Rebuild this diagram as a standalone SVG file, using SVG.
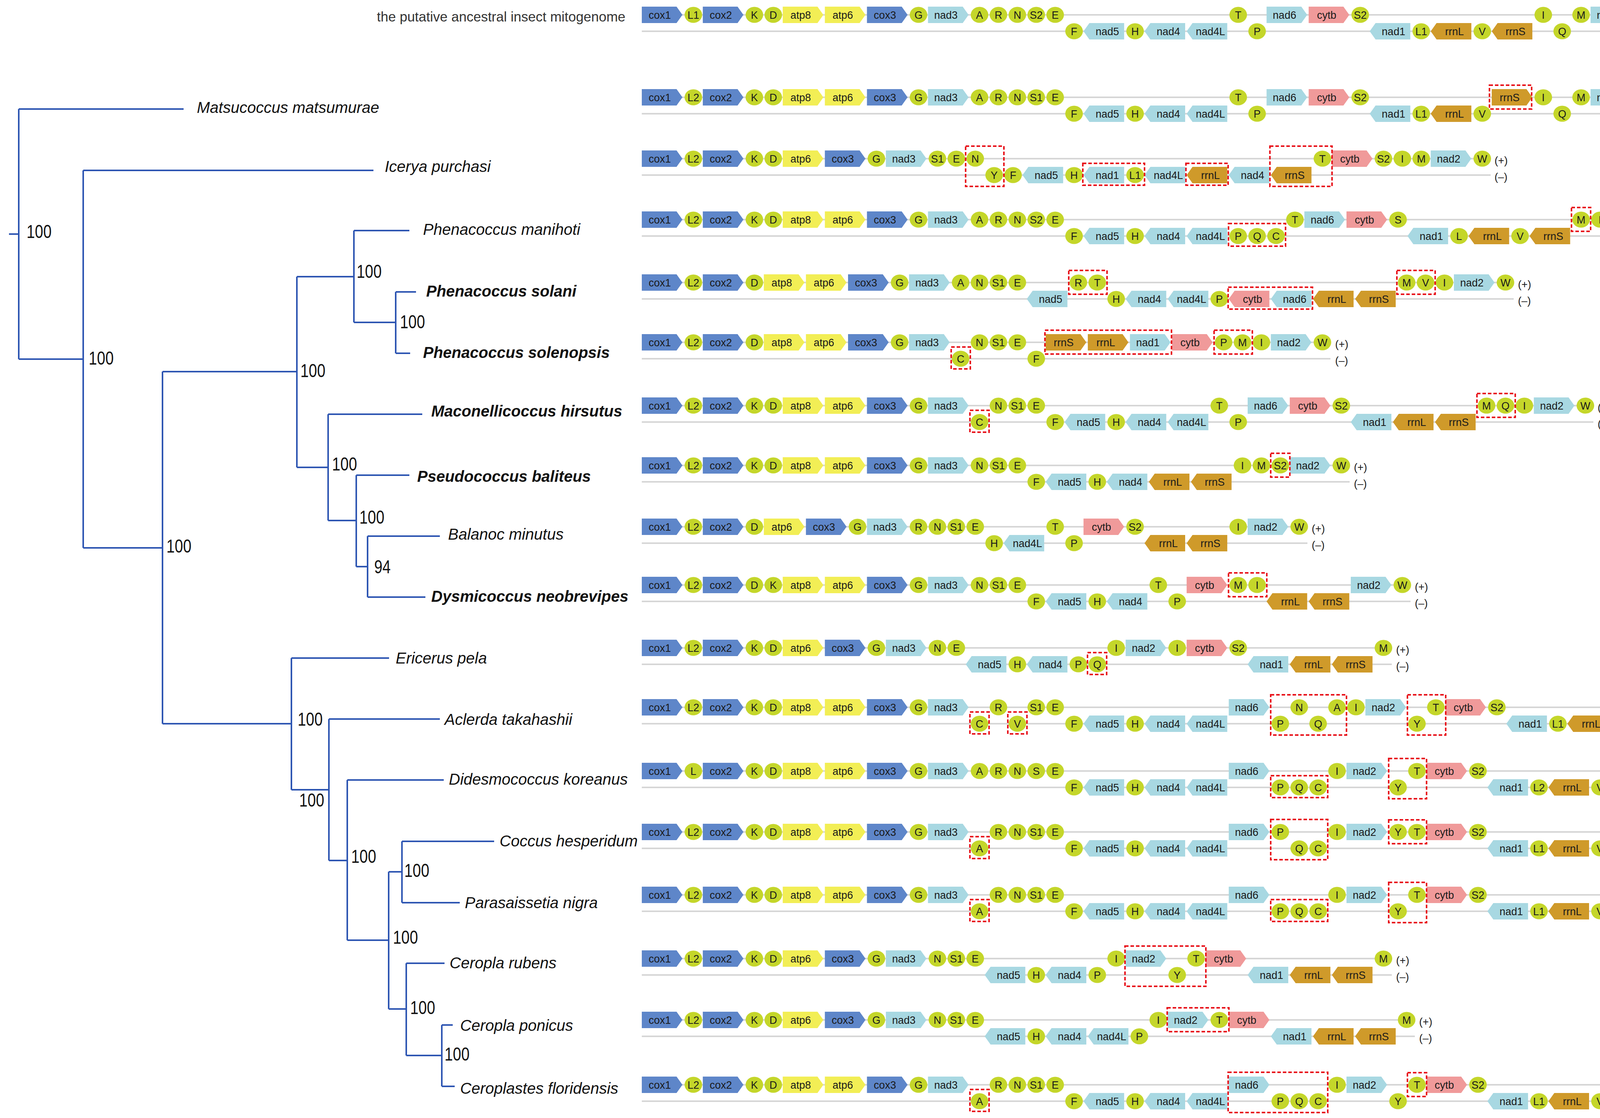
<svg xmlns="http://www.w3.org/2000/svg" xmlns:xlink="http://www.w3.org/1999/xlink" width="4384" height="2861" viewBox="0 0 4384 2861">
<style>
.c{fill:#5E86C9}.a{fill:#F2EE55}.n{fill:#A8D8E2}.y{fill:#F09A9A}.s{fill:#CF9A2A}.t{fill:#C4D62A}
.row text{font-family:"Liberation Sans",Arial,sans-serif;font-size:27px;fill:#1a1a1a;text-anchor:middle}
.row text.sd{text-anchor:start}
.ln{stroke:#D6D6D6;stroke-width:4}
.bx{fill:none;stroke:#E8141C;stroke-width:4;stroke-dasharray:9 5}
.tree path{fill:none;stroke:#2D55B2;stroke-width:4}
.sp{font-family:"Liberation Sans",Arial,sans-serif;font-size:40px;font-style:italic;fill:#111}
.b{font-weight:bold}
.bs{font-family:"Liberation Sans",Arial,sans-serif;font-size:48px;fill:#111}
.ti{font-family:"Liberation Sans",Arial,sans-serif;font-size:35px;fill:#333;text-anchor:end}
</style>
<defs>
<path id="f" d="M0,-21H89L104,0L89,21H0Z"/>
<path id="r" d="M15,-21H104V21H15L0,0Z"/>
<ellipse id="t" cx="24.2" cy="0" rx="22.5" ry="20.5"/>
</defs>
<rect width="4384" height="2861" fill="#fff"/>
<text class="ti" x="1601" y="55">the putative ancestral insect mitogenome</text>

<g id="connectors" class="tree">
<path d="M23,599H48M48,279V919M48,279H470M48,919H213"/>
<path d="M213,436V1402M213,436H956M213,1402H416"/>
<path d="M416,951V1852M416,951H760M416,1852H746"/>
<path d="M760,708V1196M760,708H906M760,1196H840"/>
<path d="M906,590V825M906,590H1048M906,825H1013M1013,747V904M1013,747H1065M1013,904H1050"/>
<path d="M840,1060V1332M840,1060H1081M840,1332H912M912,1216V1450M912,1216H1048M912,1450H941M941,1372V1528M941,1372H1126M941,1528H1089"/>
<path d="M746,1684V2021M746,1684H996M746,2021H842M842,1840V2202M842,1840H1126M842,2202H889"/>
<path d="M889,1996V2406M889,1996H1136M889,2406H995M995,2231V2582M995,2231H1029M995,2582H1040"/>
<path d="M1029,2153V2310M1029,2153H1265M1029,2310H1177M1040,2465V2701M1040,2465H1138M1040,2701H1131M1131,2623V2780M1131,2623H1159M1131,2780H1164"/>
</g>

<g id="tree-labels">
<text class="sp" x="504" y="289">Matsucoccus matsumurae</text>
<text class="sp" x="985" y="440">Icerya purchasi</text>
<text class="sp" x="1083" y="601">Phenacoccus manihoti</text>
<text class="sp b" x="1091" y="759">Phenacoccus solani</text>
<text class="sp b" x="1083" y="916">Phenacoccus solenopsis</text>
<text class="sp b" x="1104" y="1066">Maconellicoccus hirsutus</text>
<text class="sp b" x="1068" y="1233">Pseudococcus baliteus</text>
<text class="sp" x="1147" y="1381">Balanoc minutus</text>
<text class="sp b" x="1104" y="1540">Dysmicoccus neobrevipes</text>
<text class="sp" x="1013" y="1698">Ericerus pela</text>
<text class="sp" x="1138" y="1855">Aclerda takahashii</text>
<text class="sp" x="1149" y="2008">Didesmococcus koreanus</text>
<text class="sp" x="1279" y="2166">Coccus hesperidum</text>
<text class="sp" x="1190" y="2324">Parasaissetia nigra</text>
<text class="sp" x="1151" y="2478">Ceropla rubens</text>
<text class="sp" x="1178" y="2638">Ceropla ponicus</text>
<text class="sp" x="1178" y="2799">Ceroplastes floridensis</text>
<text class="bs" x="68" y="609" textLength="64" lengthAdjust="spacingAndGlyphs">100</text>
<text class="bs" x="227" y="933" textLength="64" lengthAdjust="spacingAndGlyphs">100</text>
<text class="bs" x="426" y="1414" textLength="64" lengthAdjust="spacingAndGlyphs">100</text>
<text class="bs" x="769" y="965" textLength="64" lengthAdjust="spacingAndGlyphs">100</text>
<text class="bs" x="913" y="711" textLength="64" lengthAdjust="spacingAndGlyphs">100</text>
<text class="bs" x="1024" y="840" textLength="64" lengthAdjust="spacingAndGlyphs">100</text>
<text class="bs" x="850" y="1204" textLength="64" lengthAdjust="spacingAndGlyphs">100</text>
<text class="bs" x="920" y="1340" textLength="64" lengthAdjust="spacingAndGlyphs">100</text>
<text class="bs" x="958" y="1467" textLength="42" lengthAdjust="spacingAndGlyphs">94</text>
<text class="bs" x="762" y="1857" textLength="64" lengthAdjust="spacingAndGlyphs">100</text>
<text class="bs" x="766" y="2064" textLength="64" lengthAdjust="spacingAndGlyphs">100</text>
<text class="bs" x="899" y="2208" textLength="64" lengthAdjust="spacingAndGlyphs">100</text>
<text class="bs" x="1006" y="2415" textLength="64" lengthAdjust="spacingAndGlyphs">100</text>
<text class="bs" x="1035" y="2244" textLength="64" lengthAdjust="spacingAndGlyphs">100</text>
<text class="bs" x="1050" y="2595" textLength="64" lengthAdjust="spacingAndGlyphs">100</text>
<text class="bs" x="1138" y="2714" textLength="64" lengthAdjust="spacingAndGlyphs">100</text>
</g>

<!-- Row 0 ancestral -->
<g id="row-ancestral" class="row" transform="translate(0,38)">
<line class="ln" x1="1643" y1="0" x2="4321" y2="0"/><line class="ln" x1="1643" y1="42" x2="4321" y2="42"/>
<g transform="translate(1643)"><use href="#f" class="c"/><text x="46" y="9.5">cox1</text></g>
<g transform="translate(1750.8)"><use href="#t" class="t"/><text x="24.2" y="9.5">L1</text></g>
<g transform="translate(1799.2)"><use href="#f" class="c"/><text x="46" y="9.5">cox2</text></g>
<g transform="translate(1907)"><use href="#t" class="t"/><text x="24.2" y="9.5">K</text></g>
<g transform="translate(1955.4)"><use href="#t" class="t"/><text x="24.2" y="9.5">D</text></g>
<g transform="translate(2003.8)"><use href="#f" class="a"/><text x="46" y="9.5">atp8</text></g>
<g transform="translate(2111.6)"><use href="#f" class="a"/><text x="46" y="9.5">atp6</text></g>
<g transform="translate(2219.4)"><use href="#f" class="c"/><text x="46" y="9.5">cox3</text></g>
<g transform="translate(2327.2)"><use href="#t" class="t"/><text x="24.2" y="9.5">G</text></g>
<g transform="translate(2375.6)"><use href="#f" class="n"/><text x="46" y="9.5">nad3</text></g>
<g transform="translate(2483.4)"><use href="#t" class="t"/><text x="24.2" y="9.5">A</text></g>
<g transform="translate(2531.8)"><use href="#t" class="t"/><text x="24.2" y="9.5">R</text></g>
<g transform="translate(2580.2)"><use href="#t" class="t"/><text x="24.2" y="9.5">N</text></g>
<g transform="translate(2628.6)"><use href="#t" class="t"/><text x="24.2" y="9.5">S2</text></g>
<g transform="translate(2677)"><use href="#t" class="t"/><text x="24.2" y="9.5">E</text></g>
<g transform="translate(2725.4,42)"><use href="#t" class="t"/><text x="24.2" y="9.5">F</text></g>
<g transform="translate(2773.8,42)"><use href="#r" class="n"/><text x="61" y="9.5">nad5</text></g>
<g transform="translate(2881.6,42)"><use href="#t" class="t"/><text x="24.2" y="9.5">H</text></g>
<g transform="translate(2930,42)"><use href="#r" class="n"/><text x="61" y="9.5">nad4</text></g>
<g transform="translate(3037.8,42)"><use href="#r" class="n"/><text x="61" y="9.5">nad4L</text></g>
<g transform="translate(3145.6)"><use href="#t" class="t"/><text x="24.2" y="9.5">T</text></g>
<g transform="translate(3194,42)"><use href="#t" class="t"/><text x="24.2" y="9.5">P</text></g>
<g transform="translate(3242.4)"><use href="#f" class="n"/><text x="46" y="9.5">nad6</text></g>
<g transform="translate(3350.2)"><use href="#f" class="y"/><text x="46" y="9.5">cytb</text></g>
<g transform="translate(3458)"><use href="#t" class="t"/><text x="24.2" y="9.5">S2</text></g>
<g transform="translate(3506.4,42)"><use href="#r" class="n"/><text x="61" y="9.5">nad1</text></g>
<g transform="translate(3614.2,42)"><use href="#t" class="t"/><text x="24.2" y="9.5">L1</text></g>
<g transform="translate(3662.6,42)"><use href="#r" class="s"/><text x="61" y="9.5">rrnL</text></g>
<g transform="translate(3770.4,42)"><use href="#t" class="t"/><text x="24.2" y="9.5">V</text></g>
<g transform="translate(3818.8,42)"><use href="#r" class="s"/><text x="61" y="9.5">rrnS</text></g>
<g transform="translate(3926.6)"><use href="#t" class="t"/><text x="24.2" y="9.5">I</text></g>
<g transform="translate(3975,42)"><use href="#t" class="t"/><text x="24.2" y="9.5">Q</text></g>
<g transform="translate(4023.4)"><use href="#t" class="t"/><text x="24.2" y="9.5">M</text></g>
<g transform="translate(4071.8)"><use href="#f" class="n"/><text x="46" y="9.5">nad2</text></g>
<g transform="translate(4179.6)"><use href="#t" class="t"/><text x="24.2" y="9.5">W</text></g>
<g transform="translate(4228,42)"><use href="#t" class="t"/><text x="24.2" y="9.5">C</text></g>
<g transform="translate(4276.4,42)"><use href="#t" class="t"/><text x="24.2" y="9.5">Y</text></g>
<text class="sd" x="4331" y="14">(+)</text><text class="sd" x="4331" y="56">(–)</text>
</g>

<!-- Row 1 Matsucoccus -->
<g id="row-matsucoccus" class="row" transform="translate(0,249)">
<line class="ln" x1="1643" y1="0" x2="4321" y2="0"/><line class="ln" x1="1643" y1="42" x2="4321" y2="42"/>
<g transform="translate(1643)"><use href="#f" class="c"/><text x="46" y="9.5">cox1</text></g>
<g transform="translate(1750.8)"><use href="#t" class="t"/><text x="24.2" y="9.5">L2</text></g>
<g transform="translate(1799.2)"><use href="#f" class="c"/><text x="46" y="9.5">cox2</text></g>
<g transform="translate(1907)"><use href="#t" class="t"/><text x="24.2" y="9.5">K</text></g>
<g transform="translate(1955.4)"><use href="#t" class="t"/><text x="24.2" y="9.5">D</text></g>
<g transform="translate(2003.8)"><use href="#f" class="a"/><text x="46" y="9.5">atp8</text></g>
<g transform="translate(2111.6)"><use href="#f" class="a"/><text x="46" y="9.5">atp6</text></g>
<g transform="translate(2219.4)"><use href="#f" class="c"/><text x="46" y="9.5">cox3</text></g>
<g transform="translate(2327.2)"><use href="#t" class="t"/><text x="24.2" y="9.5">G</text></g>
<g transform="translate(2375.6)"><use href="#f" class="n"/><text x="46" y="9.5">nad3</text></g>
<g transform="translate(2483.4)"><use href="#t" class="t"/><text x="24.2" y="9.5">A</text></g>
<g transform="translate(2531.8)"><use href="#t" class="t"/><text x="24.2" y="9.5">R</text></g>
<g transform="translate(2580.2)"><use href="#t" class="t"/><text x="24.2" y="9.5">N</text></g>
<g transform="translate(2628.6)"><use href="#t" class="t"/><text x="24.2" y="9.5">S1</text></g>
<g transform="translate(2677)"><use href="#t" class="t"/><text x="24.2" y="9.5">E</text></g>
<g transform="translate(2725.4,42)"><use href="#t" class="t"/><text x="24.2" y="9.5">F</text></g>
<g transform="translate(2773.8,42)"><use href="#r" class="n"/><text x="61" y="9.5">nad5</text></g>
<g transform="translate(2881.6,42)"><use href="#t" class="t"/><text x="24.2" y="9.5">H</text></g>
<g transform="translate(2930,42)"><use href="#r" class="n"/><text x="61" y="9.5">nad4</text></g>
<g transform="translate(3037.8,42)"><use href="#r" class="n"/><text x="61" y="9.5">nad4L</text></g>
<g transform="translate(3145.6)"><use href="#t" class="t"/><text x="24.2" y="9.5">T</text></g>
<g transform="translate(3194,42)"><use href="#t" class="t"/><text x="24.2" y="9.5">P</text></g>
<g transform="translate(3242.4)"><use href="#f" class="n"/><text x="46" y="9.5">nad6</text></g>
<g transform="translate(3350.2)"><use href="#f" class="y"/><text x="46" y="9.5">cytb</text></g>
<g transform="translate(3458)"><use href="#t" class="t"/><text x="24.2" y="9.5">S2</text></g>
<g transform="translate(3506.4,42)"><use href="#r" class="n"/><text x="61" y="9.5">nad1</text></g>
<g transform="translate(3614.2,42)"><use href="#t" class="t"/><text x="24.2" y="9.5">L1</text></g>
<g transform="translate(3662.6,42)"><use href="#r" class="s"/><text x="61" y="9.5">rrnL</text></g>
<g transform="translate(3770.4,42)"><use href="#t" class="t"/><text x="24.2" y="9.5">V</text></g>
<g transform="translate(3818.8)"><use href="#f" class="s"/><text x="46" y="9.5">rrnS</text></g>
<g transform="translate(3926.6)"><use href="#t" class="t"/><text x="24.2" y="9.5">I</text></g>
<g transform="translate(3975,42)"><use href="#t" class="t"/><text x="24.2" y="9.5">Q</text></g>
<g transform="translate(4023.4)"><use href="#t" class="t"/><text x="24.2" y="9.5">M</text></g>
<g transform="translate(4071.8)"><use href="#f" class="n"/><text x="46" y="9.5">nad2</text></g>
<g transform="translate(4179.6)"><use href="#t" class="t"/><text x="24.2" y="9.5">W</text></g>
<g transform="translate(4228,42)"><use href="#t" class="t"/><text x="24.2" y="9.5">Y</text></g>
<g transform="translate(4276.4,42)"><use href="#t" class="t"/><text x="24.2" y="9.5">C</text></g>
<rect class="bx" x="3813" y="-31" width="108" height="61"/>
<rect class="bx" x="4228" y="12" width="49" height="56"/>
<text class="sd" x="4331" y="14">(+)</text><text class="sd" x="4331" y="56">(–)</text>
</g>

<!-- Row 2 Icerya -->
<g id="row-icerya" class="row" transform="translate(0,406)">
<line class="ln" x1="1643" y1="0" x2="3816" y2="0"/><line class="ln" x1="1643" y1="42" x2="3816" y2="42"/>
<g transform="translate(1643)"><use href="#f" class="c"/><text x="46" y="9.5">cox1</text></g>
<g transform="translate(1750.8)"><use href="#t" class="t"/><text x="24.2" y="9.5">L2</text></g>
<g transform="translate(1799.2)"><use href="#f" class="c"/><text x="46" y="9.5">cox2</text></g>
<g transform="translate(1907)"><use href="#t" class="t"/><text x="24.2" y="9.5">K</text></g>
<g transform="translate(1955.4)"><use href="#t" class="t"/><text x="24.2" y="9.5">D</text></g>
<g transform="translate(2003.8)"><use href="#f" class="a"/><text x="46" y="9.5">atp6</text></g>
<g transform="translate(2111.6)"><use href="#f" class="c"/><text x="46" y="9.5">cox3</text></g>
<g transform="translate(2219.4)"><use href="#t" class="t"/><text x="24.2" y="9.5">G</text></g>
<g transform="translate(2267.8)"><use href="#f" class="n"/><text x="46" y="9.5">nad3</text></g>
<g transform="translate(2375.6)"><use href="#t" class="t"/><text x="24.2" y="9.5">S1</text></g>
<g transform="translate(2424)"><use href="#t" class="t"/><text x="24.2" y="9.5">E</text></g>
<g transform="translate(2472.4)"><use href="#t" class="t"/><text x="24.2" y="9.5">N</text></g>
<g transform="translate(2520.8,42)"><use href="#t" class="t"/><text x="24.2" y="9.5">Y</text></g>
<g transform="translate(2569.2,42)"><use href="#t" class="t"/><text x="24.2" y="9.5">F</text></g>
<g transform="translate(2617.6,42)"><use href="#r" class="n"/><text x="61" y="9.5">nad5</text></g>
<g transform="translate(2725.4,42)"><use href="#t" class="t"/><text x="24.2" y="9.5">H</text></g>
<g transform="translate(2773.8,42)"><use href="#r" class="n"/><text x="61" y="9.5">nad1</text></g>
<g transform="translate(2881.6,42)"><use href="#t" class="t"/><text x="24.2" y="9.5">L1</text></g>
<g transform="translate(2930,42)"><use href="#r" class="n"/><text x="61" y="9.5">nad4L</text></g>
<g transform="translate(3037.8,42)"><use href="#r" class="s"/><text x="61" y="9.5">rrnL</text></g>
<g transform="translate(3145.6,42)"><use href="#r" class="n"/><text x="61" y="9.5">nad4</text></g>
<g transform="translate(3253.4,42)"><use href="#r" class="s"/><text x="61" y="9.5">rrnS</text></g>
<g transform="translate(3361.2)"><use href="#t" class="t"/><text x="24.2" y="9.5">T</text></g>
<g transform="translate(3409.6)"><use href="#f" class="y"/><text x="46" y="9.5">cytb</text></g>
<g transform="translate(3517.4)"><use href="#t" class="t"/><text x="24.2" y="9.5">S2</text></g>
<g transform="translate(3565.8)"><use href="#t" class="t"/><text x="24.2" y="9.5">I</text></g>
<g transform="translate(3614.2)"><use href="#t" class="t"/><text x="24.2" y="9.5">M</text></g>
<g transform="translate(3662.6)"><use href="#f" class="n"/><text x="46" y="9.5">nad2</text></g>
<g transform="translate(3770.4)"><use href="#t" class="t"/><text x="24.2" y="9.5">W</text></g>
<rect class="bx" x="2472" y="-32" width="98" height="103"/>
<rect class="bx" x="2772" y="12" width="158" height="56"/>
<rect class="bx" x="3036" y="12" width="108" height="56"/>
<rect class="bx" x="3251" y="-32" width="159" height="103"/>
<text class="sd" x="3826" y="14">(+)</text><text class="sd" x="3826" y="56">(–)</text>
</g>

<!-- Row 3 P. manihoti -->
<g id="row-manihoti" class="row" transform="translate(0,562)">
<line class="ln" x1="1643" y1="0" x2="4321" y2="0"/><line class="ln" x1="1643" y1="42" x2="4321" y2="42"/>
<g transform="translate(1643)"><use href="#f" class="c"/><text x="46" y="9.5">cox1</text></g>
<g transform="translate(1750.8)"><use href="#t" class="t"/><text x="24.2" y="9.5">L2</text></g>
<g transform="translate(1799.2)"><use href="#f" class="c"/><text x="46" y="9.5">cox2</text></g>
<g transform="translate(1907)"><use href="#t" class="t"/><text x="24.2" y="9.5">K</text></g>
<g transform="translate(1955.4)"><use href="#t" class="t"/><text x="24.2" y="9.5">D</text></g>
<g transform="translate(2003.8)"><use href="#f" class="a"/><text x="46" y="9.5">atp8</text></g>
<g transform="translate(2111.6)"><use href="#f" class="a"/><text x="46" y="9.5">atp6</text></g>
<g transform="translate(2219.4)"><use href="#f" class="c"/><text x="46" y="9.5">cox3</text></g>
<g transform="translate(2327.2)"><use href="#t" class="t"/><text x="24.2" y="9.5">G</text></g>
<g transform="translate(2375.6)"><use href="#f" class="n"/><text x="46" y="9.5">nad3</text></g>
<g transform="translate(2483.4)"><use href="#t" class="t"/><text x="24.2" y="9.5">A</text></g>
<g transform="translate(2531.8)"><use href="#t" class="t"/><text x="24.2" y="9.5">R</text></g>
<g transform="translate(2580.2)"><use href="#t" class="t"/><text x="24.2" y="9.5">N</text></g>
<g transform="translate(2628.6)"><use href="#t" class="t"/><text x="24.2" y="9.5">S2</text></g>
<g transform="translate(2677)"><use href="#t" class="t"/><text x="24.2" y="9.5">E</text></g>
<g transform="translate(2725.4,42)"><use href="#t" class="t"/><text x="24.2" y="9.5">F</text></g>
<g transform="translate(2773.8,42)"><use href="#r" class="n"/><text x="61" y="9.5">nad5</text></g>
<g transform="translate(2881.6,42)"><use href="#t" class="t"/><text x="24.2" y="9.5">H</text></g>
<g transform="translate(2930,42)"><use href="#r" class="n"/><text x="61" y="9.5">nad4</text></g>
<g transform="translate(3037.8,42)"><use href="#r" class="n"/><text x="61" y="9.5">nad4L</text></g>
<g transform="translate(3145.6,42)"><use href="#t" class="t"/><text x="24.2" y="9.5">P</text></g>
<g transform="translate(3194,42)"><use href="#t" class="t"/><text x="24.2" y="9.5">Q</text></g>
<g transform="translate(3242.4,42)"><use href="#t" class="t"/><text x="24.2" y="9.5">C</text></g>
<g transform="translate(3290.8)"><use href="#t" class="t"/><text x="24.2" y="9.5">T</text></g>
<g transform="translate(3339.2)"><use href="#f" class="n"/><text x="46" y="9.5">nad6</text></g>
<g transform="translate(3447)"><use href="#f" class="y"/><text x="46" y="9.5">cytb</text></g>
<g transform="translate(3554.8)"><use href="#t" class="t"/><text x="24.2" y="9.5">S</text></g>
<g transform="translate(3603.2,42)"><use href="#r" class="n"/><text x="61" y="9.5">nad1</text></g>
<g transform="translate(3711,42)"><use href="#t" class="t"/><text x="24.2" y="9.5">L</text></g>
<g transform="translate(3759.4,42)"><use href="#r" class="s"/><text x="61" y="9.5">rrnL</text></g>
<g transform="translate(3867.2,42)"><use href="#t" class="t"/><text x="24.2" y="9.5">V</text></g>
<g transform="translate(3915.6,42)"><use href="#r" class="s"/><text x="61" y="9.5">rrnS</text></g>
<g transform="translate(4023.4)"><use href="#t" class="t"/><text x="24.2" y="9.5">M</text></g>
<g transform="translate(4071.8)"><use href="#t" class="t"/><text x="24.2" y="9.5">I</text></g>
<g transform="translate(4120.2)"><use href="#f" class="n"/><text x="46" y="9.5">nad2</text></g>
<g transform="translate(4228,42)"><use href="#t" class="t"/><text x="24.2" y="9.5">Y</text></g>
<g transform="translate(4276.4)"><use href="#t" class="t"/><text x="24.2" y="9.5">W</text></g>
<rect class="bx" x="3145" y="10" width="146" height="58"/>
<rect class="bx" x="4023" y="-31" width="49" height="61"/>
<rect class="bx" x="4276" y="-31" width="49" height="61"/>
<text class="sd" x="4331" y="14">(+)</text><text class="sd" x="4331" y="56">(–)</text>
</g>

<!-- Row 4 P. solani -->
<g id="row-solani" class="row" transform="translate(0,723)">
<line class="ln" x1="1643" y1="0" x2="3875" y2="0"/><line class="ln" x1="1643" y1="42" x2="3875" y2="42"/>
<g transform="translate(1643)"><use href="#f" class="c"/><text x="46" y="9.5">cox1</text></g>
<g transform="translate(1750.8)"><use href="#t" class="t"/><text x="24.2" y="9.5">L2</text></g>
<g transform="translate(1799.2)"><use href="#f" class="c"/><text x="46" y="9.5">cox2</text></g>
<g transform="translate(1907)"><use href="#t" class="t"/><text x="24.2" y="9.5">D</text></g>
<g transform="translate(1955.4)"><use href="#f" class="a"/><text x="46" y="9.5">atp8</text></g>
<g transform="translate(2063.2)"><use href="#f" class="a"/><text x="46" y="9.5">atp6</text></g>
<g transform="translate(2171)"><use href="#f" class="c"/><text x="46" y="9.5">cox3</text></g>
<g transform="translate(2278.8)"><use href="#t" class="t"/><text x="24.2" y="9.5">G</text></g>
<g transform="translate(2327.2)"><use href="#f" class="n"/><text x="46" y="9.5">nad3</text></g>
<g transform="translate(2435)"><use href="#t" class="t"/><text x="24.2" y="9.5">A</text></g>
<g transform="translate(2483.4)"><use href="#t" class="t"/><text x="24.2" y="9.5">N</text></g>
<g transform="translate(2531.8)"><use href="#t" class="t"/><text x="24.2" y="9.5">S1</text></g>
<g transform="translate(2580.2)"><use href="#t" class="t"/><text x="24.2" y="9.5">E</text></g>
<g transform="translate(2628.6,42)"><use href="#r" class="n"/><text x="61" y="9.5">nad5</text></g>
<g transform="translate(2736.4)"><use href="#t" class="t"/><text x="24.2" y="9.5">R</text></g>
<g transform="translate(2784.8)"><use href="#t" class="t"/><text x="24.2" y="9.5">T</text></g>
<g transform="translate(2833.2,42)"><use href="#t" class="t"/><text x="24.2" y="9.5">H</text></g>
<g transform="translate(2881.6,42)"><use href="#r" class="n"/><text x="61" y="9.5">nad4</text></g>
<g transform="translate(2989.4,42)"><use href="#r" class="n"/><text x="61" y="9.5">nad4L</text></g>
<g transform="translate(3097.2,42)"><use href="#t" class="t"/><text x="24.2" y="9.5">P</text></g>
<g transform="translate(3145.6,42)"><use href="#r" class="y"/><text x="61" y="9.5">cytb</text></g>
<g transform="translate(3253.4,42)"><use href="#r" class="n"/><text x="61" y="9.5">nad6</text></g>
<g transform="translate(3361.2,42)"><use href="#r" class="s"/><text x="61" y="9.5">rrnL</text></g>
<g transform="translate(3469,42)"><use href="#r" class="s"/><text x="61" y="9.5">rrnS</text></g>
<g transform="translate(3576.8)"><use href="#t" class="t"/><text x="24.2" y="9.5">M</text></g>
<g transform="translate(3625.2)"><use href="#t" class="t"/><text x="24.2" y="9.5">V</text></g>
<g transform="translate(3673.6)"><use href="#t" class="t"/><text x="24.2" y="9.5">I</text></g>
<g transform="translate(3722)"><use href="#f" class="n"/><text x="46" y="9.5">nad2</text></g>
<g transform="translate(3829.8)"><use href="#t" class="t"/><text x="24.2" y="9.5">W</text></g>
<rect class="bx" x="2736" y="-31" width="98" height="61"/>
<rect class="bx" x="3144" y="12" width="216" height="56"/>
<rect class="bx" x="3576" y="-31" width="98" height="61"/>
<text class="sd" x="3886" y="14">(+)</text><text class="sd" x="3886" y="56">(–)</text>
</g>

<!-- Row 5 P. solenopsis -->
<g id="row-solenopsis" class="row" transform="translate(0,876)">
<line class="ln" x1="1643" y1="0" x2="3406" y2="0"/><line class="ln" x1="1643" y1="42" x2="3406" y2="42"/>
<g transform="translate(1643)"><use href="#f" class="c"/><text x="46" y="9.5">cox1</text></g>
<g transform="translate(1750.8)"><use href="#t" class="t"/><text x="24.2" y="9.5">L2</text></g>
<g transform="translate(1799.2)"><use href="#f" class="c"/><text x="46" y="9.5">cox2</text></g>
<g transform="translate(1907)"><use href="#t" class="t"/><text x="24.2" y="9.5">D</text></g>
<g transform="translate(1955.4)"><use href="#f" class="a"/><text x="46" y="9.5">atp8</text></g>
<g transform="translate(2063.2)"><use href="#f" class="a"/><text x="46" y="9.5">atp6</text></g>
<g transform="translate(2171)"><use href="#f" class="c"/><text x="46" y="9.5">cox3</text></g>
<g transform="translate(2278.8)"><use href="#t" class="t"/><text x="24.2" y="9.5">G</text></g>
<g transform="translate(2327.2)"><use href="#f" class="n"/><text x="46" y="9.5">nad3</text></g>
<g transform="translate(2435,42)"><use href="#t" class="t"/><text x="24.2" y="9.5">C</text></g>
<g transform="translate(2483.4)"><use href="#t" class="t"/><text x="24.2" y="9.5">N</text></g>
<g transform="translate(2531.8)"><use href="#t" class="t"/><text x="24.2" y="9.5">S1</text></g>
<g transform="translate(2580.2)"><use href="#t" class="t"/><text x="24.2" y="9.5">E</text></g>
<g transform="translate(2628.6,42)"><use href="#t" class="t"/><text x="24.2" y="9.5">F</text></g>
<g transform="translate(2677)"><use href="#f" class="s"/><text x="46" y="9.5">rrnS</text></g>
<g transform="translate(2784.8)"><use href="#f" class="s"/><text x="46" y="9.5">rrnL</text></g>
<g transform="translate(2892.6)"><use href="#f" class="n"/><text x="46" y="9.5">nad1</text></g>
<g transform="translate(3000.4)"><use href="#f" class="y"/><text x="46" y="9.5">cytb</text></g>
<g transform="translate(3108.2)"><use href="#t" class="t"/><text x="24.2" y="9.5">P</text></g>
<g transform="translate(3156.6)"><use href="#t" class="t"/><text x="24.2" y="9.5">M</text></g>
<g transform="translate(3205)"><use href="#t" class="t"/><text x="24.2" y="9.5">I</text></g>
<g transform="translate(3253.4)"><use href="#f" class="n"/><text x="46" y="9.5">nad2</text></g>
<g transform="translate(3361.2)"><use href="#t" class="t"/><text x="24.2" y="9.5">W</text></g>
<rect class="bx" x="2435" y="12" width="49" height="56"/>
<rect class="bx" x="2675" y="-31" width="324" height="61"/>
<rect class="bx" x="3108" y="-31" width="98" height="61"/>
<text class="sd" x="3418" y="14">(+)</text><text class="sd" x="3418" y="56">(–)</text>
</g>

<!-- Row 6 Maconellicoccus -->
<g id="row-maconellicoccus" class="row" transform="translate(0,1038)">
<line class="ln" x1="1643" y1="0" x2="4079" y2="0"/><line class="ln" x1="1643" y1="42" x2="4079" y2="42"/>
<g transform="translate(1643)"><use href="#f" class="c"/><text x="46" y="9.5">cox1</text></g>
<g transform="translate(1750.8)"><use href="#t" class="t"/><text x="24.2" y="9.5">L2</text></g>
<g transform="translate(1799.2)"><use href="#f" class="c"/><text x="46" y="9.5">cox2</text></g>
<g transform="translate(1907)"><use href="#t" class="t"/><text x="24.2" y="9.5">K</text></g>
<g transform="translate(1955.4)"><use href="#t" class="t"/><text x="24.2" y="9.5">D</text></g>
<g transform="translate(2003.8)"><use href="#f" class="a"/><text x="46" y="9.5">atp8</text></g>
<g transform="translate(2111.6)"><use href="#f" class="a"/><text x="46" y="9.5">atp6</text></g>
<g transform="translate(2219.4)"><use href="#f" class="c"/><text x="46" y="9.5">cox3</text></g>
<g transform="translate(2327.2)"><use href="#t" class="t"/><text x="24.2" y="9.5">G</text></g>
<g transform="translate(2375.6)"><use href="#f" class="n"/><text x="46" y="9.5">nad3</text></g>
<g transform="translate(2483.4,42)"><use href="#t" class="t"/><text x="24.2" y="9.5">C</text></g>
<g transform="translate(2531.8)"><use href="#t" class="t"/><text x="24.2" y="9.5">N</text></g>
<g transform="translate(2580.2)"><use href="#t" class="t"/><text x="24.2" y="9.5">S1</text></g>
<g transform="translate(2628.6)"><use href="#t" class="t"/><text x="24.2" y="9.5">E</text></g>
<g transform="translate(2677,42)"><use href="#t" class="t"/><text x="24.2" y="9.5">F</text></g>
<g transform="translate(2725.4,42)"><use href="#r" class="n"/><text x="61" y="9.5">nad5</text></g>
<g transform="translate(2833.2,42)"><use href="#t" class="t"/><text x="24.2" y="9.5">H</text></g>
<g transform="translate(2881.6,42)"><use href="#r" class="n"/><text x="61" y="9.5">nad4</text></g>
<g transform="translate(2989.4,42)"><use href="#r" class="n"/><text x="61" y="9.5">nad4L</text></g>
<g transform="translate(3097.2)"><use href="#t" class="t"/><text x="24.2" y="9.5">T</text></g>
<g transform="translate(3145.6,42)"><use href="#t" class="t"/><text x="24.2" y="9.5">P</text></g>
<g transform="translate(3194)"><use href="#f" class="n"/><text x="46" y="9.5">nad6</text></g>
<g transform="translate(3301.8)"><use href="#f" class="y"/><text x="46" y="9.5">cytb</text></g>
<g transform="translate(3409.6)"><use href="#t" class="t"/><text x="24.2" y="9.5">S2</text></g>
<g transform="translate(3458,42)"><use href="#r" class="n"/><text x="61" y="9.5">nad1</text></g>
<g transform="translate(3565.8,42)"><use href="#r" class="s"/><text x="61" y="9.5">rrnL</text></g>
<g transform="translate(3673.6,42)"><use href="#r" class="s"/><text x="61" y="9.5">rrnS</text></g>
<g transform="translate(3781.4)"><use href="#t" class="t"/><text x="24.2" y="9.5">M</text></g>
<g transform="translate(3829.8)"><use href="#t" class="t"/><text x="24.2" y="9.5">Q</text></g>
<g transform="translate(3878.2)"><use href="#t" class="t"/><text x="24.2" y="9.5">I</text></g>
<g transform="translate(3926.6)"><use href="#f" class="n"/><text x="46" y="9.5">nad2</text></g>
<g transform="translate(4034.4)"><use href="#t" class="t"/><text x="24.2" y="9.5">W</text></g>
<rect class="bx" x="2483" y="12" width="49" height="56"/>
<rect class="bx" x="3781" y="-31" width="98" height="61"/>
<text class="sd" x="4090" y="14">(+)</text><text class="sd" x="4090" y="56">(–)</text>
</g>

<!-- Row 7 Pseudococcus -->
<g id="row-pseudococcus" class="row" transform="translate(0,1191)">
<line class="ln" x1="1643" y1="0" x2="3455" y2="0"/><line class="ln" x1="1643" y1="42" x2="3455" y2="42"/>
<g transform="translate(1643)"><use href="#f" class="c"/><text x="46" y="9.5">cox1</text></g>
<g transform="translate(1750.8)"><use href="#t" class="t"/><text x="24.2" y="9.5">L2</text></g>
<g transform="translate(1799.2)"><use href="#f" class="c"/><text x="46" y="9.5">cox2</text></g>
<g transform="translate(1907)"><use href="#t" class="t"/><text x="24.2" y="9.5">K</text></g>
<g transform="translate(1955.4)"><use href="#t" class="t"/><text x="24.2" y="9.5">D</text></g>
<g transform="translate(2003.8)"><use href="#f" class="a"/><text x="46" y="9.5">atp8</text></g>
<g transform="translate(2111.6)"><use href="#f" class="a"/><text x="46" y="9.5">atp6</text></g>
<g transform="translate(2219.4)"><use href="#f" class="c"/><text x="46" y="9.5">cox3</text></g>
<g transform="translate(2327.2)"><use href="#t" class="t"/><text x="24.2" y="9.5">G</text></g>
<g transform="translate(2375.6)"><use href="#f" class="n"/><text x="46" y="9.5">nad3</text></g>
<g transform="translate(2483.4)"><use href="#t" class="t"/><text x="24.2" y="9.5">N</text></g>
<g transform="translate(2531.8)"><use href="#t" class="t"/><text x="24.2" y="9.5">S1</text></g>
<g transform="translate(2580.2)"><use href="#t" class="t"/><text x="24.2" y="9.5">E</text></g>
<g transform="translate(2628.6,42)"><use href="#t" class="t"/><text x="24.2" y="9.5">F</text></g>
<g transform="translate(2677,42)"><use href="#r" class="n"/><text x="61" y="9.5">nad5</text></g>
<g transform="translate(2784.8,42)"><use href="#t" class="t"/><text x="24.2" y="9.5">H</text></g>
<g transform="translate(2833.2,42)"><use href="#r" class="n"/><text x="61" y="9.5">nad4</text></g>
<g transform="translate(2941,42)"><use href="#r" class="s"/><text x="61" y="9.5">rrnL</text></g>
<g transform="translate(3048.8,42)"><use href="#r" class="s"/><text x="61" y="9.5">rrnS</text></g>
<g transform="translate(3156.6)"><use href="#t" class="t"/><text x="24.2" y="9.5">I</text></g>
<g transform="translate(3205)"><use href="#t" class="t"/><text x="24.2" y="9.5">M</text></g>
<g transform="translate(3253.4)"><use href="#t" class="t"/><text x="24.2" y="9.5">S2</text></g>
<g transform="translate(3301.8)"><use href="#f" class="n"/><text x="46" y="9.5">nad2</text></g>
<g transform="translate(3409.6)"><use href="#t" class="t"/><text x="24.2" y="9.5">W</text></g>
<rect class="bx" x="3253" y="-31" width="49" height="61"/>
<text class="sd" x="3466" y="14">(+)</text><text class="sd" x="3466" y="56">(–)</text>
</g>

<!-- Row 8 Balanoc -->
<g id="row-balanoc" class="row" transform="translate(0,1348)">
<line class="ln" x1="1643" y1="0" x2="3347" y2="0"/><line class="ln" x1="1643" y1="42" x2="3347" y2="42"/>
<g transform="translate(1643)"><use href="#f" class="c"/><text x="46" y="9.5">cox1</text></g>
<g transform="translate(1750.8)"><use href="#t" class="t"/><text x="24.2" y="9.5">L2</text></g>
<g transform="translate(1799.2)"><use href="#f" class="c"/><text x="46" y="9.5">cox2</text></g>
<g transform="translate(1907)"><use href="#t" class="t"/><text x="24.2" y="9.5">D</text></g>
<g transform="translate(1955.4)"><use href="#f" class="a"/><text x="46" y="9.5">atp6</text></g>
<g transform="translate(2063.2)"><use href="#f" class="c"/><text x="46" y="9.5">cox3</text></g>
<g transform="translate(2171)"><use href="#t" class="t"/><text x="24.2" y="9.5">G</text></g>
<g transform="translate(2219.4)"><use href="#f" class="n"/><text x="46" y="9.5">nad3</text></g>
<g transform="translate(2327.2)"><use href="#t" class="t"/><text x="24.2" y="9.5">R</text></g>
<g transform="translate(2375.6)"><use href="#t" class="t"/><text x="24.2" y="9.5">N</text></g>
<g transform="translate(2424)"><use href="#t" class="t"/><text x="24.2" y="9.5">S1</text></g>
<g transform="translate(2472.4)"><use href="#t" class="t"/><text x="24.2" y="9.5">E</text></g>
<g transform="translate(2520.8,42)"><use href="#t" class="t"/><text x="24.2" y="9.5">H</text></g>
<g transform="translate(2569.2,42)"><use href="#r" class="n"/><text x="61" y="9.5">nad4L</text></g>
<g transform="translate(2677)"><use href="#t" class="t"/><text x="24.2" y="9.5">T</text></g>
<g transform="translate(2725.4,42)"><use href="#t" class="t"/><text x="24.2" y="9.5">P</text></g>
<g transform="translate(2773.8)"><use href="#f" class="y"/><text x="46" y="9.5">cytb</text></g>
<g transform="translate(2881.6)"><use href="#t" class="t"/><text x="24.2" y="9.5">S2</text></g>
<g transform="translate(2930,42)"><use href="#r" class="s"/><text x="61" y="9.5">rrnL</text></g>
<g transform="translate(3037.8,42)"><use href="#r" class="s"/><text x="61" y="9.5">rrnS</text></g>
<g transform="translate(3145.6)"><use href="#t" class="t"/><text x="24.2" y="9.5">I</text></g>
<g transform="translate(3194)"><use href="#f" class="n"/><text x="46" y="9.5">nad2</text></g>
<g transform="translate(3301.8)"><use href="#t" class="t"/><text x="24.2" y="9.5">W</text></g>
<text class="sd" x="3358" y="14">(+)</text><text class="sd" x="3358" y="56">(–)</text>
</g>

<!-- Row 9 Dysmicoccus -->
<g id="row-dysmicoccus" class="row" transform="translate(0,1497)">
<line class="ln" x1="1643" y1="0" x2="3611" y2="0"/><line class="ln" x1="1643" y1="42" x2="3611" y2="42"/>
<g transform="translate(1643)"><use href="#f" class="c"/><text x="46" y="9.5">cox1</text></g>
<g transform="translate(1750.8)"><use href="#t" class="t"/><text x="24.2" y="9.5">L2</text></g>
<g transform="translate(1799.2)"><use href="#f" class="c"/><text x="46" y="9.5">cox2</text></g>
<g transform="translate(1907)"><use href="#t" class="t"/><text x="24.2" y="9.5">D</text></g>
<g transform="translate(1955.4)"><use href="#t" class="t"/><text x="24.2" y="9.5">K</text></g>
<g transform="translate(2003.8)"><use href="#f" class="a"/><text x="46" y="9.5">atp8</text></g>
<g transform="translate(2111.6)"><use href="#f" class="a"/><text x="46" y="9.5">atp6</text></g>
<g transform="translate(2219.4)"><use href="#f" class="c"/><text x="46" y="9.5">cox3</text></g>
<g transform="translate(2327.2)"><use href="#t" class="t"/><text x="24.2" y="9.5">G</text></g>
<g transform="translate(2375.6)"><use href="#f" class="n"/><text x="46" y="9.5">nad3</text></g>
<g transform="translate(2483.4)"><use href="#t" class="t"/><text x="24.2" y="9.5">N</text></g>
<g transform="translate(2531.8)"><use href="#t" class="t"/><text x="24.2" y="9.5">S1</text></g>
<g transform="translate(2580.2)"><use href="#t" class="t"/><text x="24.2" y="9.5">E</text></g>
<g transform="translate(2628.6,42)"><use href="#t" class="t"/><text x="24.2" y="9.5">F</text></g>
<g transform="translate(2677,42)"><use href="#r" class="n"/><text x="61" y="9.5">nad5</text></g>
<g transform="translate(2784.8,42)"><use href="#t" class="t"/><text x="24.2" y="9.5">H</text></g>
<g transform="translate(2833.2,42)"><use href="#r" class="n"/><text x="61" y="9.5">nad4</text></g>
<g transform="translate(2941)"><use href="#t" class="t"/><text x="24.2" y="9.5">T</text></g>
<g transform="translate(2989.4,42)"><use href="#t" class="t"/><text x="24.2" y="9.5">P</text></g>
<g transform="translate(3037.8)"><use href="#f" class="y"/><text x="46" y="9.5">cytb</text></g>
<g transform="translate(3145.6)"><use href="#t" class="t"/><text x="24.2" y="9.5">M</text></g>
<g transform="translate(3194)"><use href="#t" class="t"/><text x="24.2" y="9.5">I</text></g>
<g transform="translate(3242.4,42)"><use href="#r" class="s"/><text x="61" y="9.5">rrnL</text></g>
<g transform="translate(3350.2,42)"><use href="#r" class="s"/><text x="61" y="9.5">rrnS</text></g>
<g transform="translate(3458)"><use href="#f" class="n"/><text x="46" y="9.5">nad2</text></g>
<g transform="translate(3565.8)"><use href="#t" class="t"/><text x="24.2" y="9.5">W</text></g>
<rect class="bx" x="3145" y="-31" width="98" height="61"/>
<text class="sd" x="3622" y="14">(+)</text><text class="sd" x="3622" y="56">(–)</text>
</g>

<!-- Row 10 Ericerus -->
<g id="row-ericerus" class="row" transform="translate(0,1658)">
<line class="ln" x1="1643" y1="0" x2="3563" y2="0"/><line class="ln" x1="1643" y1="42" x2="3563" y2="42"/>
<g transform="translate(1643)"><use href="#f" class="c"/><text x="46" y="9.5">cox1</text></g>
<g transform="translate(1750.8)"><use href="#t" class="t"/><text x="24.2" y="9.5">L2</text></g>
<g transform="translate(1799.2)"><use href="#f" class="c"/><text x="46" y="9.5">cox2</text></g>
<g transform="translate(1907)"><use href="#t" class="t"/><text x="24.2" y="9.5">K</text></g>
<g transform="translate(1955.4)"><use href="#t" class="t"/><text x="24.2" y="9.5">D</text></g>
<g transform="translate(2003.8)"><use href="#f" class="a"/><text x="46" y="9.5">atp6</text></g>
<g transform="translate(2111.6)"><use href="#f" class="c"/><text x="46" y="9.5">cox3</text></g>
<g transform="translate(2219.4)"><use href="#t" class="t"/><text x="24.2" y="9.5">G</text></g>
<g transform="translate(2267.8)"><use href="#f" class="n"/><text x="46" y="9.5">nad3</text></g>
<g transform="translate(2375.6)"><use href="#t" class="t"/><text x="24.2" y="9.5">N</text></g>
<g transform="translate(2424)"><use href="#t" class="t"/><text x="24.2" y="9.5">E</text></g>
<g transform="translate(2472.4,42)"><use href="#r" class="n"/><text x="61" y="9.5">nad5</text></g>
<g transform="translate(2580.2,42)"><use href="#t" class="t"/><text x="24.2" y="9.5">H</text></g>
<g transform="translate(2628.6,42)"><use href="#r" class="n"/><text x="61" y="9.5">nad4</text></g>
<g transform="translate(2736.4,42)"><use href="#t" class="t"/><text x="24.2" y="9.5">P</text></g>
<g transform="translate(2784.8,42)"><use href="#t" class="t"/><text x="24.2" y="9.5">Q</text></g>
<g transform="translate(2833.2)"><use href="#t" class="t"/><text x="24.2" y="9.5">I</text></g>
<g transform="translate(2881.6)"><use href="#f" class="n"/><text x="46" y="9.5">nad2</text></g>
<g transform="translate(2989.4)"><use href="#t" class="t"/><text x="24.2" y="9.5">I</text></g>
<g transform="translate(3037.8)"><use href="#f" class="y"/><text x="46" y="9.5">cytb</text></g>
<g transform="translate(3145.6)"><use href="#t" class="t"/><text x="24.2" y="9.5">S2</text></g>
<g transform="translate(3194,42)"><use href="#r" class="n"/><text x="61" y="9.5">nad1</text></g>
<g transform="translate(3301.8,42)"><use href="#r" class="s"/><text x="61" y="9.5">rrnL</text></g>
<g transform="translate(3409.6,42)"><use href="#r" class="s"/><text x="61" y="9.5">rrnS</text></g>
<g transform="translate(3517.4)"><use href="#t" class="t"/><text x="24.2" y="9.5">M</text></g>
<rect class="bx" x="2784" y="12" width="49" height="56"/>
<text class="sd" x="3574" y="14">(+)</text><text class="sd" x="3574" y="56">(–)</text>
</g>

<!-- Row 11 Aclerda -->
<g id="row-aclerda" class="row" transform="translate(0,1810)">
<line class="ln" x1="1643" y1="0" x2="4321" y2="0"/><line class="ln" x1="1643" y1="42" x2="4321" y2="42"/>
<g transform="translate(1643)"><use href="#f" class="c"/><text x="46" y="9.5">cox1</text></g>
<g transform="translate(1750.8)"><use href="#t" class="t"/><text x="24.2" y="9.5">L2</text></g>
<g transform="translate(1799.2)"><use href="#f" class="c"/><text x="46" y="9.5">cox2</text></g>
<g transform="translate(1907)"><use href="#t" class="t"/><text x="24.2" y="9.5">K</text></g>
<g transform="translate(1955.4)"><use href="#t" class="t"/><text x="24.2" y="9.5">D</text></g>
<g transform="translate(2003.8)"><use href="#f" class="a"/><text x="46" y="9.5">atp8</text></g>
<g transform="translate(2111.6)"><use href="#f" class="a"/><text x="46" y="9.5">atp6</text></g>
<g transform="translate(2219.4)"><use href="#f" class="c"/><text x="46" y="9.5">cox3</text></g>
<g transform="translate(2327.2)"><use href="#t" class="t"/><text x="24.2" y="9.5">G</text></g>
<g transform="translate(2375.6)"><use href="#f" class="n"/><text x="46" y="9.5">nad3</text></g>
<g transform="translate(2483.4,42)"><use href="#t" class="t"/><text x="24.2" y="9.5">C</text></g>
<g transform="translate(2531.8)"><use href="#t" class="t"/><text x="24.2" y="9.5">R</text></g>
<g transform="translate(2580.2,42)"><use href="#t" class="t"/><text x="24.2" y="9.5">V</text></g>
<g transform="translate(2628.6)"><use href="#t" class="t"/><text x="24.2" y="9.5">S1</text></g>
<g transform="translate(2677)"><use href="#t" class="t"/><text x="24.2" y="9.5">E</text></g>
<g transform="translate(2725.4,42)"><use href="#t" class="t"/><text x="24.2" y="9.5">F</text></g>
<g transform="translate(2773.8,42)"><use href="#r" class="n"/><text x="61" y="9.5">nad5</text></g>
<g transform="translate(2881.6,42)"><use href="#t" class="t"/><text x="24.2" y="9.5">H</text></g>
<g transform="translate(2930,42)"><use href="#r" class="n"/><text x="61" y="9.5">nad4</text></g>
<g transform="translate(3037.8,42)"><use href="#r" class="n"/><text x="61" y="9.5">nad4L</text></g>
<g transform="translate(3145.6)"><use href="#f" class="n"/><text x="46" y="9.5">nad6</text></g>
<g transform="translate(3253.4,42)"><use href="#t" class="t"/><text x="24.2" y="9.5">P</text></g>
<g transform="translate(3301.8)"><use href="#t" class="t"/><text x="24.2" y="9.5">N</text></g>
<g transform="translate(3350.2,42)"><use href="#t" class="t"/><text x="24.2" y="9.5">Q</text></g>
<g transform="translate(3398.6)"><use href="#t" class="t"/><text x="24.2" y="9.5">A</text></g>
<g transform="translate(3447)"><use href="#t" class="t"/><text x="24.2" y="9.5">I</text></g>
<g transform="translate(3495.4)"><use href="#f" class="n"/><text x="46" y="9.5">nad2</text></g>
<g transform="translate(3603.2,42)"><use href="#t" class="t"/><text x="24.2" y="9.5">Y</text></g>
<g transform="translate(3651.6)"><use href="#t" class="t"/><text x="24.2" y="9.5">T</text></g>
<g transform="translate(3700)"><use href="#f" class="y"/><text x="46" y="9.5">cytb</text></g>
<g transform="translate(3807.8)"><use href="#t" class="t"/><text x="24.2" y="9.5">S2</text></g>
<g transform="translate(3856.2,42)"><use href="#r" class="n"/><text x="61" y="9.5">nad1</text></g>
<g transform="translate(3964,42)"><use href="#t" class="t"/><text x="24.2" y="9.5">L1</text></g>
<g transform="translate(4012.4,42)"><use href="#r" class="s"/><text x="61" y="9.5">rrnL</text></g>
<g transform="translate(4120.2,42)"><use href="#r" class="s"/><text x="61" y="9.5">rrnS</text></g>
<g transform="translate(4228)"><use href="#t" class="t"/><text x="24.2" y="9.5">M</text></g>
<g transform="translate(4276.4)"><use href="#t" class="t"/><text x="24.2" y="9.5">W</text></g>
<rect class="bx" x="2483" y="12" width="49" height="56"/>
<rect class="bx" x="2580" y="12" width="49" height="56"/>
<rect class="bx" x="3253" y="-32" width="194" height="103"/>
<rect class="bx" x="3603" y="-32" width="98" height="103"/>
<text class="sd" x="4331" y="14">(+)</text><text class="sd" x="4331" y="56">(–)</text>
</g>

<!-- Row 12 Didesmococcus -->
<g id="row-didesmococcus" class="row" transform="translate(0,1973)">
<line class="ln" x1="1643" y1="0" x2="4321" y2="0"/><line class="ln" x1="1643" y1="42" x2="4321" y2="42"/>
<g transform="translate(1643)"><use href="#f" class="c"/><text x="46" y="9.5">cox1</text></g>
<g transform="translate(1750.8)"><use href="#t" class="t"/><text x="24.2" y="9.5">L</text></g>
<g transform="translate(1799.2)"><use href="#f" class="c"/><text x="46" y="9.5">cox2</text></g>
<g transform="translate(1907)"><use href="#t" class="t"/><text x="24.2" y="9.5">K</text></g>
<g transform="translate(1955.4)"><use href="#t" class="t"/><text x="24.2" y="9.5">D</text></g>
<g transform="translate(2003.8)"><use href="#f" class="a"/><text x="46" y="9.5">atp8</text></g>
<g transform="translate(2111.6)"><use href="#f" class="a"/><text x="46" y="9.5">atp6</text></g>
<g transform="translate(2219.4)"><use href="#f" class="c"/><text x="46" y="9.5">cox3</text></g>
<g transform="translate(2327.2)"><use href="#t" class="t"/><text x="24.2" y="9.5">G</text></g>
<g transform="translate(2375.6)"><use href="#f" class="n"/><text x="46" y="9.5">nad3</text></g>
<g transform="translate(2483.4)"><use href="#t" class="t"/><text x="24.2" y="9.5">A</text></g>
<g transform="translate(2531.8)"><use href="#t" class="t"/><text x="24.2" y="9.5">R</text></g>
<g transform="translate(2580.2)"><use href="#t" class="t"/><text x="24.2" y="9.5">N</text></g>
<g transform="translate(2628.6)"><use href="#t" class="t"/><text x="24.2" y="9.5">S</text></g>
<g transform="translate(2677)"><use href="#t" class="t"/><text x="24.2" y="9.5">E</text></g>
<g transform="translate(2725.4,42)"><use href="#t" class="t"/><text x="24.2" y="9.5">F</text></g>
<g transform="translate(2773.8,42)"><use href="#r" class="n"/><text x="61" y="9.5">nad5</text></g>
<g transform="translate(2881.6,42)"><use href="#t" class="t"/><text x="24.2" y="9.5">H</text></g>
<g transform="translate(2930,42)"><use href="#r" class="n"/><text x="61" y="9.5">nad4</text></g>
<g transform="translate(3037.8,42)"><use href="#r" class="n"/><text x="61" y="9.5">nad4L</text></g>
<g transform="translate(3145.6)"><use href="#f" class="n"/><text x="46" y="9.5">nad6</text></g>
<g transform="translate(3253.4,42)"><use href="#t" class="t"/><text x="24.2" y="9.5">P</text></g>
<g transform="translate(3301.8,42)"><use href="#t" class="t"/><text x="24.2" y="9.5">Q</text></g>
<g transform="translate(3350.2,42)"><use href="#t" class="t"/><text x="24.2" y="9.5">C</text></g>
<g transform="translate(3398.6)"><use href="#t" class="t"/><text x="24.2" y="9.5">I</text></g>
<g transform="translate(3447)"><use href="#f" class="n"/><text x="46" y="9.5">nad2</text></g>
<g transform="translate(3554.8,42)"><use href="#t" class="t"/><text x="24.2" y="9.5">Y</text></g>
<g transform="translate(3603.2)"><use href="#t" class="t"/><text x="24.2" y="9.5">T</text></g>
<g transform="translate(3651.6)"><use href="#f" class="y"/><text x="46" y="9.5">cytb</text></g>
<g transform="translate(3759.4)"><use href="#t" class="t"/><text x="24.2" y="9.5">S2</text></g>
<g transform="translate(3807.8,42)"><use href="#r" class="n"/><text x="61" y="9.5">nad1</text></g>
<g transform="translate(3915.6,42)"><use href="#t" class="t"/><text x="24.2" y="9.5">L2</text></g>
<g transform="translate(3964,42)"><use href="#r" class="s"/><text x="61" y="9.5">rrnL</text></g>
<g transform="translate(4071.8,42)"><use href="#t" class="t"/><text x="24.2" y="9.5">V</text></g>
<g transform="translate(4120.2,42)"><use href="#r" class="s"/><text x="61" y="9.5">rrnS</text></g>
<g transform="translate(4228)"><use href="#t" class="t"/><text x="24.2" y="9.5">M</text></g>
<g transform="translate(4276.4)"><use href="#t" class="t"/><text x="24.2" y="9.5">W</text></g>
<rect class="bx" x="3253" y="12" width="146" height="56"/>
<rect class="bx" x="3555" y="-32" width="97" height="103"/>
<text class="sd" x="4331" y="14">(+)</text><text class="sd" x="4331" y="56">(–)</text>
</g>

<!-- Row 13 Coccus -->
<g id="row-coccus" class="row" transform="translate(0,2129)">
<line class="ln" x1="1643" y1="0" x2="4321" y2="0"/><line class="ln" x1="1643" y1="42" x2="4321" y2="42"/>
<g transform="translate(1643)"><use href="#f" class="c"/><text x="46" y="9.5">cox1</text></g>
<g transform="translate(1750.8)"><use href="#t" class="t"/><text x="24.2" y="9.5">L2</text></g>
<g transform="translate(1799.2)"><use href="#f" class="c"/><text x="46" y="9.5">cox2</text></g>
<g transform="translate(1907)"><use href="#t" class="t"/><text x="24.2" y="9.5">K</text></g>
<g transform="translate(1955.4)"><use href="#t" class="t"/><text x="24.2" y="9.5">D</text></g>
<g transform="translate(2003.8)"><use href="#f" class="a"/><text x="46" y="9.5">atp8</text></g>
<g transform="translate(2111.6)"><use href="#f" class="a"/><text x="46" y="9.5">atp6</text></g>
<g transform="translate(2219.4)"><use href="#f" class="c"/><text x="46" y="9.5">cox3</text></g>
<g transform="translate(2327.2)"><use href="#t" class="t"/><text x="24.2" y="9.5">G</text></g>
<g transform="translate(2375.6)"><use href="#f" class="n"/><text x="46" y="9.5">nad3</text></g>
<g transform="translate(2483.4,42)"><use href="#t" class="t"/><text x="24.2" y="9.5">A</text></g>
<g transform="translate(2531.8)"><use href="#t" class="t"/><text x="24.2" y="9.5">R</text></g>
<g transform="translate(2580.2)"><use href="#t" class="t"/><text x="24.2" y="9.5">N</text></g>
<g transform="translate(2628.6)"><use href="#t" class="t"/><text x="24.2" y="9.5">S1</text></g>
<g transform="translate(2677)"><use href="#t" class="t"/><text x="24.2" y="9.5">E</text></g>
<g transform="translate(2725.4,42)"><use href="#t" class="t"/><text x="24.2" y="9.5">F</text></g>
<g transform="translate(2773.8,42)"><use href="#r" class="n"/><text x="61" y="9.5">nad5</text></g>
<g transform="translate(2881.6,42)"><use href="#t" class="t"/><text x="24.2" y="9.5">H</text></g>
<g transform="translate(2930,42)"><use href="#r" class="n"/><text x="61" y="9.5">nad4</text></g>
<g transform="translate(3037.8,42)"><use href="#r" class="n"/><text x="61" y="9.5">nad4L</text></g>
<g transform="translate(3145.6)"><use href="#f" class="n"/><text x="46" y="9.5">nad6</text></g>
<g transform="translate(3253.4)"><use href="#t" class="t"/><text x="24.2" y="9.5">P</text></g>
<g transform="translate(3301.8,42)"><use href="#t" class="t"/><text x="24.2" y="9.5">Q</text></g>
<g transform="translate(3350.2,42)"><use href="#t" class="t"/><text x="24.2" y="9.5">C</text></g>
<g transform="translate(3398.6)"><use href="#t" class="t"/><text x="24.2" y="9.5">I</text></g>
<g transform="translate(3447)"><use href="#f" class="n"/><text x="46" y="9.5">nad2</text></g>
<g transform="translate(3554.8)"><use href="#t" class="t"/><text x="24.2" y="9.5">Y</text></g>
<g transform="translate(3603.2)"><use href="#t" class="t"/><text x="24.2" y="9.5">T</text></g>
<g transform="translate(3651.6)"><use href="#f" class="y"/><text x="46" y="9.5">cytb</text></g>
<g transform="translate(3759.4)"><use href="#t" class="t"/><text x="24.2" y="9.5">S2</text></g>
<g transform="translate(3807.8,42)"><use href="#r" class="n"/><text x="61" y="9.5">nad1</text></g>
<g transform="translate(3915.6,42)"><use href="#t" class="t"/><text x="24.2" y="9.5">L1</text></g>
<g transform="translate(3964,42)"><use href="#r" class="s"/><text x="61" y="9.5">rrnL</text></g>
<g transform="translate(4071.8,42)"><use href="#t" class="t"/><text x="24.2" y="9.5">V</text></g>
<g transform="translate(4120.2,42)"><use href="#r" class="s"/><text x="61" y="9.5">rrnS</text></g>
<g transform="translate(4228)"><use href="#t" class="t"/><text x="24.2" y="9.5">M</text></g>
<g transform="translate(4276.4)"><use href="#t" class="t"/><text x="24.2" y="9.5">W</text></g>
<rect class="bx" x="2483" y="12" width="49" height="56"/>
<rect class="bx" x="3253" y="-32" width="146" height="103"/>
<rect class="bx" x="3555" y="-31" width="97" height="61"/>
<text class="sd" x="4331" y="14">(+)</text><text class="sd" x="4331" y="56">(–)</text>
</g>

<!-- Row 14 Parasaissetia -->
<g id="row-parasaissetia" class="row" transform="translate(0,2290)">
<line class="ln" x1="1643" y1="0" x2="4321" y2="0"/><line class="ln" x1="1643" y1="42" x2="4321" y2="42"/>
<g transform="translate(1643)"><use href="#f" class="c"/><text x="46" y="9.5">cox1</text></g>
<g transform="translate(1750.8)"><use href="#t" class="t"/><text x="24.2" y="9.5">L2</text></g>
<g transform="translate(1799.2)"><use href="#f" class="c"/><text x="46" y="9.5">cox2</text></g>
<g transform="translate(1907)"><use href="#t" class="t"/><text x="24.2" y="9.5">K</text></g>
<g transform="translate(1955.4)"><use href="#t" class="t"/><text x="24.2" y="9.5">D</text></g>
<g transform="translate(2003.8)"><use href="#f" class="a"/><text x="46" y="9.5">atp8</text></g>
<g transform="translate(2111.6)"><use href="#f" class="a"/><text x="46" y="9.5">atp6</text></g>
<g transform="translate(2219.4)"><use href="#f" class="c"/><text x="46" y="9.5">cox3</text></g>
<g transform="translate(2327.2)"><use href="#t" class="t"/><text x="24.2" y="9.5">G</text></g>
<g transform="translate(2375.6)"><use href="#f" class="n"/><text x="46" y="9.5">nad3</text></g>
<g transform="translate(2483.4,42)"><use href="#t" class="t"/><text x="24.2" y="9.5">A</text></g>
<g transform="translate(2531.8)"><use href="#t" class="t"/><text x="24.2" y="9.5">R</text></g>
<g transform="translate(2580.2)"><use href="#t" class="t"/><text x="24.2" y="9.5">N</text></g>
<g transform="translate(2628.6)"><use href="#t" class="t"/><text x="24.2" y="9.5">S1</text></g>
<g transform="translate(2677)"><use href="#t" class="t"/><text x="24.2" y="9.5">E</text></g>
<g transform="translate(2725.4,42)"><use href="#t" class="t"/><text x="24.2" y="9.5">F</text></g>
<g transform="translate(2773.8,42)"><use href="#r" class="n"/><text x="61" y="9.5">nad5</text></g>
<g transform="translate(2881.6,42)"><use href="#t" class="t"/><text x="24.2" y="9.5">H</text></g>
<g transform="translate(2930,42)"><use href="#r" class="n"/><text x="61" y="9.5">nad4</text></g>
<g transform="translate(3037.8,42)"><use href="#r" class="n"/><text x="61" y="9.5">nad4L</text></g>
<g transform="translate(3145.6)"><use href="#f" class="n"/><text x="46" y="9.5">nad6</text></g>
<g transform="translate(3253.4,42)"><use href="#t" class="t"/><text x="24.2" y="9.5">P</text></g>
<g transform="translate(3301.8,42)"><use href="#t" class="t"/><text x="24.2" y="9.5">Q</text></g>
<g transform="translate(3350.2,42)"><use href="#t" class="t"/><text x="24.2" y="9.5">C</text></g>
<g transform="translate(3398.6)"><use href="#t" class="t"/><text x="24.2" y="9.5">I</text></g>
<g transform="translate(3447)"><use href="#f" class="n"/><text x="46" y="9.5">nad2</text></g>
<g transform="translate(3554.8,42)"><use href="#t" class="t"/><text x="24.2" y="9.5">Y</text></g>
<g transform="translate(3603.2)"><use href="#t" class="t"/><text x="24.2" y="9.5">T</text></g>
<g transform="translate(3651.6)"><use href="#f" class="y"/><text x="46" y="9.5">cytb</text></g>
<g transform="translate(3759.4)"><use href="#t" class="t"/><text x="24.2" y="9.5">S2</text></g>
<g transform="translate(3807.8,42)"><use href="#r" class="n"/><text x="61" y="9.5">nad1</text></g>
<g transform="translate(3915.6,42)"><use href="#t" class="t"/><text x="24.2" y="9.5">L1</text></g>
<g transform="translate(3964,42)"><use href="#r" class="s"/><text x="61" y="9.5">rrnL</text></g>
<g transform="translate(4071.8,42)"><use href="#t" class="t"/><text x="24.2" y="9.5">V</text></g>
<g transform="translate(4120.2,42)"><use href="#r" class="s"/><text x="61" y="9.5">rrnS</text></g>
<g transform="translate(4228)"><use href="#t" class="t"/><text x="24.2" y="9.5">M</text></g>
<g transform="translate(4276.4)"><use href="#t" class="t"/><text x="24.2" y="9.5">W</text></g>
<rect class="bx" x="2483" y="12" width="49" height="56"/>
<rect class="bx" x="3253" y="12" width="146" height="56"/>
<rect class="bx" x="3555" y="-32" width="97" height="103"/>
<text class="sd" x="4331" y="14">(+)</text><text class="sd" x="4331" y="56">(–)</text>
</g>

<!-- Row 15 Ceropla rubens -->
<g id="row-ceropla-rubens" class="row" transform="translate(0,2453)">
<line class="ln" x1="1643" y1="0" x2="3563" y2="0"/><line class="ln" x1="1643" y1="42" x2="3563" y2="42"/>
<g transform="translate(1643)"><use href="#f" class="c"/><text x="46" y="9.5">cox1</text></g>
<g transform="translate(1750.8)"><use href="#t" class="t"/><text x="24.2" y="9.5">L2</text></g>
<g transform="translate(1799.2)"><use href="#f" class="c"/><text x="46" y="9.5">cox2</text></g>
<g transform="translate(1907)"><use href="#t" class="t"/><text x="24.2" y="9.5">K</text></g>
<g transform="translate(1955.4)"><use href="#t" class="t"/><text x="24.2" y="9.5">D</text></g>
<g transform="translate(2003.8)"><use href="#f" class="a"/><text x="46" y="9.5">atp6</text></g>
<g transform="translate(2111.6)"><use href="#f" class="c"/><text x="46" y="9.5">cox3</text></g>
<g transform="translate(2219.4)"><use href="#t" class="t"/><text x="24.2" y="9.5">G</text></g>
<g transform="translate(2267.8)"><use href="#f" class="n"/><text x="46" y="9.5">nad3</text></g>
<g transform="translate(2375.6)"><use href="#t" class="t"/><text x="24.2" y="9.5">N</text></g>
<g transform="translate(2424)"><use href="#t" class="t"/><text x="24.2" y="9.5">S1</text></g>
<g transform="translate(2472.4)"><use href="#t" class="t"/><text x="24.2" y="9.5">E</text></g>
<g transform="translate(2520.8,42)"><use href="#r" class="n"/><text x="61" y="9.5">nad5</text></g>
<g transform="translate(2628.6,42)"><use href="#t" class="t"/><text x="24.2" y="9.5">H</text></g>
<g transform="translate(2677,42)"><use href="#r" class="n"/><text x="61" y="9.5">nad4</text></g>
<g transform="translate(2784.8,42)"><use href="#t" class="t"/><text x="24.2" y="9.5">P</text></g>
<g transform="translate(2833.2)"><use href="#t" class="t"/><text x="24.2" y="9.5">I</text></g>
<g transform="translate(2881.6)"><use href="#f" class="n"/><text x="46" y="9.5">nad2</text></g>
<g transform="translate(2989.4,42)"><use href="#t" class="t"/><text x="24.2" y="9.5">Y</text></g>
<g transform="translate(3037.8)"><use href="#t" class="t"/><text x="24.2" y="9.5">T</text></g>
<g transform="translate(3086.2)"><use href="#f" class="y"/><text x="46" y="9.5">cytb</text></g>
<g transform="translate(3194,42)"><use href="#r" class="n"/><text x="61" y="9.5">nad1</text></g>
<g transform="translate(3301.8,42)"><use href="#r" class="s"/><text x="61" y="9.5">rrnL</text></g>
<g transform="translate(3409.6,42)"><use href="#r" class="s"/><text x="61" y="9.5">rrnS</text></g>
<g transform="translate(3517.4)"><use href="#t" class="t"/><text x="24.2" y="9.5">M</text></g>
<rect class="bx" x="2880" y="-32" width="207" height="103"/>
<text class="sd" x="3574" y="14">(+)</text><text class="sd" x="3574" y="56">(–)</text>
</g>

<!-- Row 16 Ceropla ponicus -->
<g id="row-ceropla-ponicus" class="row" transform="translate(0,2610)">
<line class="ln" x1="1643" y1="0" x2="3622" y2="0"/><line class="ln" x1="1643" y1="42" x2="3622" y2="42"/>
<g transform="translate(1643)"><use href="#f" class="c"/><text x="46" y="9.5">cox1</text></g>
<g transform="translate(1750.8)"><use href="#t" class="t"/><text x="24.2" y="9.5">L2</text></g>
<g transform="translate(1799.2)"><use href="#f" class="c"/><text x="46" y="9.5">cox2</text></g>
<g transform="translate(1907)"><use href="#t" class="t"/><text x="24.2" y="9.5">K</text></g>
<g transform="translate(1955.4)"><use href="#t" class="t"/><text x="24.2" y="9.5">D</text></g>
<g transform="translate(2003.8)"><use href="#f" class="a"/><text x="46" y="9.5">atp6</text></g>
<g transform="translate(2111.6)"><use href="#f" class="c"/><text x="46" y="9.5">cox3</text></g>
<g transform="translate(2219.4)"><use href="#t" class="t"/><text x="24.2" y="9.5">G</text></g>
<g transform="translate(2267.8)"><use href="#f" class="n"/><text x="46" y="9.5">nad3</text></g>
<g transform="translate(2375.6)"><use href="#t" class="t"/><text x="24.2" y="9.5">N</text></g>
<g transform="translate(2424)"><use href="#t" class="t"/><text x="24.2" y="9.5">S1</text></g>
<g transform="translate(2472.4)"><use href="#t" class="t"/><text x="24.2" y="9.5">E</text></g>
<g transform="translate(2520.8,42)"><use href="#r" class="n"/><text x="61" y="9.5">nad5</text></g>
<g transform="translate(2628.6,42)"><use href="#t" class="t"/><text x="24.2" y="9.5">H</text></g>
<g transform="translate(2677,42)"><use href="#r" class="n"/><text x="61" y="9.5">nad4</text></g>
<g transform="translate(2784.8,42)"><use href="#r" class="n"/><text x="61" y="9.5">nad4L</text></g>
<g transform="translate(2892.6,42)"><use href="#t" class="t"/><text x="24.2" y="9.5">P</text></g>
<g transform="translate(2941)"><use href="#t" class="t"/><text x="24.2" y="9.5">I</text></g>
<g transform="translate(2989.4)"><use href="#f" class="n"/><text x="46" y="9.5">nad2</text></g>
<g transform="translate(3097.2)"><use href="#t" class="t"/><text x="24.2" y="9.5">T</text></g>
<g transform="translate(3145.6)"><use href="#f" class="y"/><text x="46" y="9.5">cytb</text></g>
<g transform="translate(3253.4,42)"><use href="#r" class="n"/><text x="61" y="9.5">nad1</text></g>
<g transform="translate(3361.2,42)"><use href="#r" class="s"/><text x="61" y="9.5">rrnL</text></g>
<g transform="translate(3469,42)"><use href="#r" class="s"/><text x="61" y="9.5">rrnS</text></g>
<g transform="translate(3576.8)"><use href="#t" class="t"/><text x="24.2" y="9.5">M</text></g>
<rect class="bx" x="2988" y="-31" width="158" height="61"/>
<text class="sd" x="3633" y="14">(+)</text><text class="sd" x="3633" y="56">(–)</text>
</g>

<!-- Row 17 Ceroplastes -->
<g id="row-ceroplastes" class="row" transform="translate(0,2776)">
<line class="ln" x1="1643" y1="0" x2="4321" y2="0"/><line class="ln" x1="1643" y1="42" x2="4321" y2="42"/>
<g transform="translate(1643)"><use href="#f" class="c"/><text x="46" y="9.5">cox1</text></g>
<g transform="translate(1750.8)"><use href="#t" class="t"/><text x="24.2" y="9.5">L2</text></g>
<g transform="translate(1799.2)"><use href="#f" class="c"/><text x="46" y="9.5">cox2</text></g>
<g transform="translate(1907)"><use href="#t" class="t"/><text x="24.2" y="9.5">K</text></g>
<g transform="translate(1955.4)"><use href="#t" class="t"/><text x="24.2" y="9.5">D</text></g>
<g transform="translate(2003.8)"><use href="#f" class="a"/><text x="46" y="9.5">atp8</text></g>
<g transform="translate(2111.6)"><use href="#f" class="a"/><text x="46" y="9.5">atp6</text></g>
<g transform="translate(2219.4)"><use href="#f" class="c"/><text x="46" y="9.5">cox3</text></g>
<g transform="translate(2327.2)"><use href="#t" class="t"/><text x="24.2" y="9.5">G</text></g>
<g transform="translate(2375.6)"><use href="#f" class="n"/><text x="46" y="9.5">nad3</text></g>
<g transform="translate(2483.4,42)"><use href="#t" class="t"/><text x="24.2" y="9.5">A</text></g>
<g transform="translate(2531.8)"><use href="#t" class="t"/><text x="24.2" y="9.5">R</text></g>
<g transform="translate(2580.2)"><use href="#t" class="t"/><text x="24.2" y="9.5">N</text></g>
<g transform="translate(2628.6)"><use href="#t" class="t"/><text x="24.2" y="9.5">S1</text></g>
<g transform="translate(2677)"><use href="#t" class="t"/><text x="24.2" y="9.5">E</text></g>
<g transform="translate(2725.4,42)"><use href="#t" class="t"/><text x="24.2" y="9.5">F</text></g>
<g transform="translate(2773.8,42)"><use href="#r" class="n"/><text x="61" y="9.5">nad5</text></g>
<g transform="translate(2881.6,42)"><use href="#t" class="t"/><text x="24.2" y="9.5">H</text></g>
<g transform="translate(2930,42)"><use href="#r" class="n"/><text x="61" y="9.5">nad4</text></g>
<g transform="translate(3037.8,42)"><use href="#r" class="n"/><text x="61" y="9.5">nad4L</text></g>
<g transform="translate(3145.6)"><use href="#f" class="n"/><text x="46" y="9.5">nad6</text></g>
<g transform="translate(3253.4,42)"><use href="#t" class="t"/><text x="24.2" y="9.5">P</text></g>
<g transform="translate(3301.8,42)"><use href="#t" class="t"/><text x="24.2" y="9.5">Q</text></g>
<g transform="translate(3350.2,42)"><use href="#t" class="t"/><text x="24.2" y="9.5">C</text></g>
<g transform="translate(3398.6)"><use href="#t" class="t"/><text x="24.2" y="9.5">I</text></g>
<g transform="translate(3447)"><use href="#f" class="n"/><text x="46" y="9.5">nad2</text></g>
<g transform="translate(3554.8,42)"><use href="#t" class="t"/><text x="24.2" y="9.5">Y</text></g>
<g transform="translate(3603.2)"><use href="#t" class="t"/><text x="24.2" y="9.5">T</text></g>
<g transform="translate(3651.6)"><use href="#f" class="y"/><text x="46" y="9.5">cytb</text></g>
<g transform="translate(3759.4)"><use href="#t" class="t"/><text x="24.2" y="9.5">S2</text></g>
<g transform="translate(3807.8,42)"><use href="#r" class="n"/><text x="61" y="9.5">nad1</text></g>
<g transform="translate(3915.6,42)"><use href="#t" class="t"/><text x="24.2" y="9.5">L1</text></g>
<g transform="translate(3964,42)"><use href="#r" class="s"/><text x="61" y="9.5">rrnL</text></g>
<g transform="translate(4071.8,42)"><use href="#t" class="t"/><text x="24.2" y="9.5">V</text></g>
<g transform="translate(4120.2,42)"><use href="#r" class="s"/><text x="61" y="9.5">rrnS</text></g>
<g transform="translate(4228)"><use href="#t" class="t"/><text x="24.2" y="9.5">M</text></g>
<g transform="translate(4276.4)"><use href="#t" class="t"/><text x="24.2" y="9.5">W</text></g>
<rect class="bx" x="2483" y="12" width="49" height="56"/>
<rect class="bx" x="3144" y="-32" width="255" height="103"/>
<rect class="bx" x="3603" y="-31" width="49" height="61"/>
<text class="sd" x="4331" y="14">(+)</text><text class="sd" x="4331" y="56">(–)</text>
</g>
</svg>
